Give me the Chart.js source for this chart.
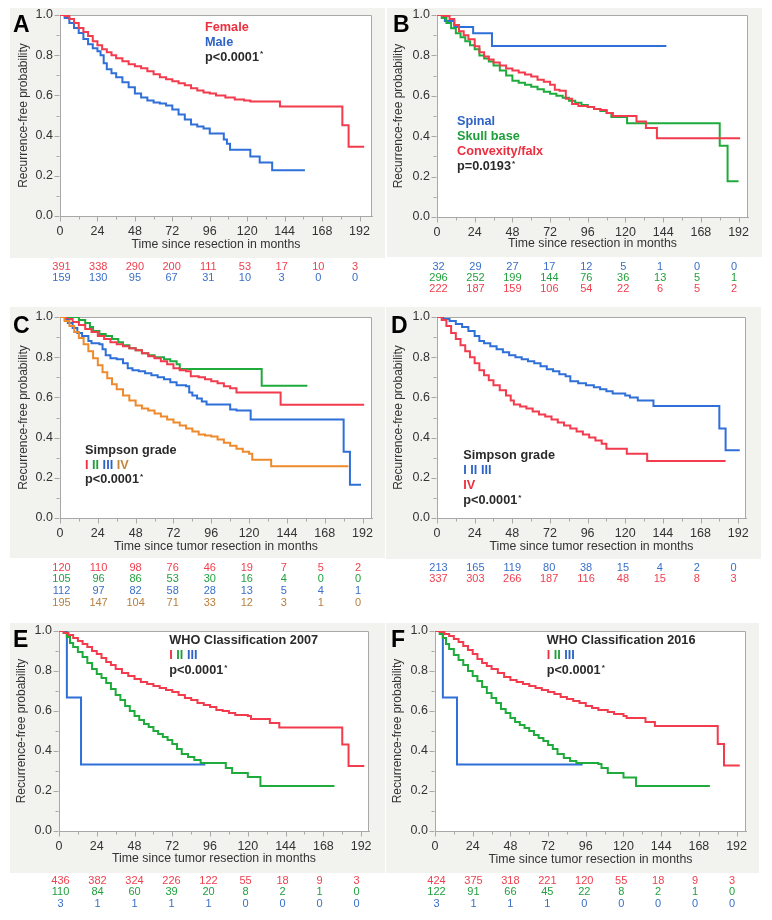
<!DOCTYPE html>
<html><head><meta charset="utf-8">
<script src="https://cdn.jsdelivr.net/npm/chart.js@4.4.1/dist/chart.umd.min.js"></script>
<style>
html,body{margin:0;padding:0;background:#fff;}
#wrap{position:relative;width:772px;height:920px;overflow:hidden;}
canvas{position:absolute;display:block;}
</style></head><body><div id="wrap">
<canvas id="cA" width="386" height="300" style="left:0;top:0"></canvas>
<canvas id="cB" width="386" height="300" style="left:386px;top:0"></canvas>
<canvas id="cC" width="386" height="310" style="left:0;top:300px"></canvas>
<canvas id="cD" width="386" height="310" style="left:386px;top:300px"></canvas>
<canvas id="cE" width="386" height="310" style="left:0;top:610px"></canvas>
<canvas id="cF" width="386" height="310" style="left:386px;top:610px"></canvas>
</div>
<script>
// ---------- tick labels ----------
const monthTicks = [0,24,48,72,96,120,144,168,192];
const probTicks = ['0.0','0.2','0.4','0.6','0.8','1.0'];

// ---------- Panel A ----------
const A_female_t = [0,3,6,9,12,15,18,21,24,27,30,33,36,40,44,48,52,56,60,64,68,72,76,80,84,88,92,96,100,106,112,118,122,141,181,185,195];
const A_female_s = [1.0,0.995,0.98,0.96,0.935,0.915,0.895,0.87,0.85,0.83,0.815,0.8,0.785,0.77,0.755,0.745,0.735,0.72,0.705,0.69,0.68,0.67,0.66,0.65,0.635,0.625,0.615,0.61,0.6,0.59,0.58,0.575,0.57,0.545,0.452,0.344,0.344];
const A_male_t = [0,3,6,9,12,15,18,21,24,26,28,30,33,36,40,44,48,52,56,60,64,68,72,76,80,84,88,92,96,105,107,109,122,128,136,157];
const A_male_s = [1.0,0.985,0.96,0.935,0.91,0.88,0.855,0.835,0.82,0.8,0.76,0.73,0.71,0.69,0.665,0.64,0.61,0.59,0.575,0.565,0.56,0.55,0.53,0.505,0.48,0.455,0.445,0.435,0.41,0.38,0.36,0.33,0.296,0.266,0.228,0.228];
const A_risk_female = [391,338,290,200,111,53,17,10,3];
const A_risk_male = [159,130,95,67,31,10,3,0,0];

// ---------- Panel B ----------
const B_spinal_t = [0,5,11,23,35,146];
const B_spinal_s = [1.0,0.97,0.94,0.91,0.846,0.846];
const B_skull_t = [0,3,6,9,12,15,18,21,24,27,30,33,36,40,44,48,52,56,60,64,68,72,76,80,84,88,92,96,100,104,108,111,121,180,185,192];
const B_skull_s = [1.0,0.985,0.96,0.935,0.91,0.89,0.87,0.85,0.83,0.8,0.785,0.77,0.75,0.725,0.7,0.675,0.665,0.655,0.645,0.632,0.62,0.61,0.6,0.59,0.575,0.565,0.555,0.545,0.535,0.525,0.515,0.495,0.464,0.353,0.177,0.177];
const B_conv_t = [0,4,8,11,14,17,20,24,27,30,33,36,40,44,48,52,56,60,64,68,72,75,78,82,86,90,96,100,104,108,112,127,133,140,193];
const B_conv_s = [1.0,0.995,0.98,0.95,0.92,0.9,0.88,0.845,0.815,0.795,0.78,0.765,0.75,0.735,0.725,0.715,0.705,0.695,0.68,0.67,0.655,0.63,0.625,0.585,0.56,0.55,0.545,0.535,0.53,0.515,0.5,0.473,0.44,0.39,0.39];
const B_risk_spinal = [32,29,27,17,12,5,1,0,0];
const B_risk_skull = [296,252,199,144,76,36,13,5,1];
const B_risk_conv = [222,187,159,106,54,22,6,5,2];

// ---------- Panel C ----------
const C_g1_t = [0,4,8,12,16,20,24,28,32,36,40,44,48,52,56,60,64,68,72,76,80,83,88,92,96,100,104,108,112,140,193];
const C_g1_s = [1.0,0.99,0.975,0.96,0.94,0.925,0.905,0.89,0.875,0.865,0.855,0.845,0.835,0.82,0.805,0.795,0.78,0.765,0.745,0.735,0.73,0.705,0.7,0.69,0.68,0.67,0.655,0.645,0.625,0.564,0.564];
const C_g2_t = [0,12,16,19,21,25,29,33,37,40,44,48,52,56,60,66,70,74,76,128,157];
const C_g2_s = [1.0,0.985,0.97,0.95,0.93,0.915,0.905,0.89,0.875,0.86,0.845,0.835,0.82,0.81,0.8,0.79,0.78,0.765,0.741,0.658,0.658];
const C_g3_t = [0,3,5,8,11,14,18,20,25,27,29,32,36,40,43,46,50,54,58,62,66,70,74,80,82,84,87,90,93,104,108,112,121,180,184,191];
const C_g3_s = [1.0,0.985,0.97,0.945,0.92,0.905,0.88,0.87,0.865,0.84,0.81,0.795,0.79,0.77,0.745,0.735,0.73,0.72,0.71,0.7,0.69,0.675,0.66,0.655,0.625,0.61,0.595,0.58,0.565,0.565,0.54,0.535,0.49,0.33,0.165,0.165];
const C_g4_t = [0,3,6,9,12,15,18,21,24,27,30,33,36,40,44,48,52,56,60,64,68,72,76,80,84,88,92,96,100,104,108,112,116,120,122,134,183];
const C_g4_s = [1.0,0.98,0.955,0.925,0.895,0.865,0.83,0.795,0.76,0.725,0.695,0.665,0.64,0.61,0.585,0.56,0.545,0.535,0.52,0.505,0.49,0.475,0.46,0.445,0.43,0.415,0.41,0.405,0.39,0.375,0.36,0.345,0.33,0.32,0.29,0.257,0.257];
const C_risk_g1 = [120,110,98,76,46,19,7,5,2];
const C_risk_g2 = [105,96,86,53,30,16,4,0,0];
const C_risk_g3 = [112,97,82,58,28,13,5,4,1];
const C_risk_g4 = [195,147,104,71,33,12,3,1,0];

// ---------- Panel D ----------
const D_g123_t = [0,4,8,12,16,20,24,27,30,34,38,42,46,50,54,58,62,66,70,74,78,82,85,90,95,100,104,108,112,120,123,128,138,180,184,193];
const D_g123_s = [1.0,0.99,0.98,0.965,0.95,0.93,0.905,0.88,0.87,0.855,0.84,0.825,0.81,0.8,0.79,0.78,0.77,0.755,0.74,0.73,0.715,0.705,0.68,0.67,0.66,0.65,0.64,0.63,0.62,0.61,0.6,0.585,0.557,0.445,0.337,0.337];
const D_g4_t = [0,3,6,9,12,15,18,21,24,27,30,33,36,40,44,47,49,53,57,61,65,69,73,77,81,85,89,93,97,101,105,108,121,134,184];
const D_g4_s = [1.0,0.985,0.955,0.92,0.89,0.86,0.83,0.8,0.77,0.735,0.71,0.685,0.66,0.635,0.61,0.585,0.565,0.555,0.545,0.53,0.515,0.505,0.49,0.475,0.46,0.445,0.43,0.415,0.4,0.385,0.37,0.345,0.32,0.283,0.283];
const D_risk_g123 = [213,165,119,80,38,15,4,2,0];
const D_risk_g4 = [337,303,266,187,116,48,15,8,3];

// ---------- Panel E ----------
const E_w1_t = [0,3,6,9,12,15,18,21,24,27,30,33,36,40,44,48,52,56,60,64,68,72,76,80,84,88,92,96,100,104,108,112,120,122,134,140,180,184,194];
const E_w1_s = [1.0,0.99,0.98,0.965,0.95,0.935,0.92,0.9,0.885,0.865,0.845,0.83,0.81,0.79,0.775,0.76,0.745,0.735,0.725,0.715,0.705,0.695,0.68,0.665,0.655,0.64,0.63,0.62,0.605,0.6,0.59,0.58,0.575,0.56,0.54,0.517,0.433,0.325,0.325];
const E_w2_t = [0,3,5,7,9,12,15,18,21,24,27,30,33,36,39,42,45,48,51,54,57,60,63,66,69,72,75,78,82,86,90,104,106,110,120,128,175];
const E_w2_s = [1.0,0.99,0.97,0.94,0.92,0.895,0.87,0.84,0.81,0.785,0.765,0.74,0.71,0.68,0.655,0.625,0.6,0.575,0.555,0.535,0.52,0.5,0.485,0.47,0.455,0.435,0.41,0.385,0.37,0.355,0.34,0.34,0.315,0.29,0.27,0.225,0.225];
const E_w3_t = [0,5,14,93];
const E_w3_s = [1.0,0.667,0.333,0.333];
const E_risk_w1 = [436,382,324,226,122,55,18,9,3];
const E_risk_w2 = [110,84,60,39,20,8,2,1,0];
const E_risk_w3 = [3,1,1,1,1,0,0,0,0];

// ---------- Panel F ----------
const F_w1_t = [0,3,6,9,12,15,18,21,24,27,30,33,36,40,44,48,52,56,60,64,68,72,76,80,84,88,92,96,100,104,110,114,120,122,134,140,180,184,194];
const F_w1_s = [1.0,0.995,0.985,0.975,0.96,0.945,0.925,0.905,0.885,0.86,0.84,0.825,0.81,0.79,0.77,0.755,0.745,0.735,0.725,0.715,0.705,0.695,0.685,0.67,0.66,0.65,0.64,0.625,0.615,0.605,0.595,0.585,0.575,0.565,0.545,0.525,0.435,0.327,0.327];
const F_w2_t = [0,3,5,7,9,12,15,18,21,24,27,30,33,36,39,42,45,48,51,54,57,60,63,66,69,72,75,78,82,86,90,104,106,110,120,128,175];
const F_w2_s = [1.0,0.985,0.965,0.935,0.91,0.88,0.855,0.83,0.8,0.775,0.75,0.72,0.69,0.665,0.64,0.61,0.59,0.565,0.545,0.53,0.515,0.5,0.48,0.465,0.45,0.43,0.41,0.385,0.365,0.35,0.34,0.335,0.315,0.29,0.267,0.225,0.225];
const F_w3_t = [0,5,14,94];
const F_w3_s = [1.0,0.667,0.333,0.333];
const F_risk_w1 = [424,375,318,221,120,55,18,9,3];
const F_risk_w2 = [122,91,66,45,22,8,2,1,0];
const F_risk_w3 = [3,1,1,1,0,0,0,0,0];

// ---------- styles ----------
const FONT = '"Liberation Sans", Arial, Helvetica, sans-serif';
const RED = '#f23b4c', BLUE = '#2f6fd8', GREEN = '#1faa3c', ORANGE = '#ee8a2c';
const RED_T = '#ec2f3f', BLUE_T = '#2d63c6', GREEN_T = '#1e9e3a', ORANGE_T = '#c4853d', DARK = '#2a2a2a';
const RED_R = '#f0404f', BLUE_R = '#3a6fc8', GREEN_R = '#22a03e', BROWN_R = '#b8803e';
const BG = '#f2f2ee', FRAME = '#a8a8a8';

const xTitle1 = 'Time since resection in months';
const xTitle2 = 'Time since tumor resection in months';
const yTitle = 'Recurrence-free probability';

const P_SIG = ['p<0.0001', DARK, '*'];

const panels = [
  {id:'cA', letter:'A', letterPos:[13,32], pad:{left:16,right:14,top:15,bottom:48}, yW:44, xH:36, xmax:200, bg:[10,8,375,250], xTitle:xTitle1,
   series:[[A_female_t,A_female_s,RED],[A_male_t,A_male_s,BLUE]],
   legend:{x:205,y0:27,dy:15,lines:[[['Female',RED_T]],[['Male',BLUE_T]],[P_SIG]]},
   risk:{rows:[[A_risk_female,RED_R],[A_risk_male,BLUE_R]],y0:50.7,dy:11}},
  {id:'cB', letter:'B', letterPos:[7,32], pad:{left:5.5,right:24,top:15,bottom:49}, yW:45.5, xH:34, xmax:198, bg:[1,8,375,249], xTitle:xTitle1,
   series:[[B_conv_t,B_conv_s,RED],[B_skull_t,B_skull_s,GREEN],[B_spinal_t,B_spinal_s,BLUE]],
   legend:{x:71,y0:121.7,dy:15,lines:[[['Spinal',BLUE_T]],[['Skull base',GREEN_T]],[['Convexity/falx',RED_T]],[['p=0.0193',DARK,'*']]]},
   risk:{rows:[[B_risk_spinal,BLUE_R],[B_risk_skull,GREEN_R],[B_risk_conv,RED_R]],y0:49.7,dy:11}},
  {id:'cC', letter:'C', letterPos:[13,33], pad:{left:16,right:14,top:17,bottom:56}, yW:44, xH:36, xmax:198, bg:[10,7,375,251], xTitle:xTitle2,
   series:[[C_g4_t,C_g4_s,ORANGE],[C_g3_t,C_g3_s,BLUE],[C_g1_t,C_g1_s,RED],[C_g2_t,C_g2_s,GREEN]],
   legend:{x:85,y0:150.7,dy:14.5,lines:[[['Simpson grade',DARK]],[['I',RED_T],[' ',DARK],['II',GREEN_T],[' ',DARK],['III',BLUE_T],[' ',DARK],['IV',ORANGE_T]],[P_SIG]]},
   risk:{rows:[[C_risk_g1,RED_R],[C_risk_g2,GREEN_R],[C_risk_g3,BLUE_R],[C_risk_g4,BROWN_R]],y0:49.7,dy:11.7}},
  {id:'cD', letter:'D', letterPos:[5,33], pad:{left:5.5,right:26,top:17,bottom:56.5}, yW:45.5, xH:35.5, xmax:197, bg:[0,7,375,252], xTitle:xTitle2,
   series:[[D_g4_t,D_g4_s,RED],[D_g123_t,D_g123_s,BLUE]],
   legend:{x:77.3,y0:155.7,dy:15,lines:[[['Simpson grade',DARK]],[['I II III',BLUE_T]],[['IV',RED_T]],[P_SIG]]},
   risk:{rows:[[D_risk_g123,BLUE_R],[D_risk_g4,RED_R]],y0:49.7,dy:11.6}},
  {id:'cE', letter:'E', letterPos:[13,37], pad:{left:14.5,right:17,top:21,bottom:54}, yW:44.5, xH:35, xmax:197, bg:[10,13,375,250], xTitle:xTitle2,
   series:[[E_w1_t,E_w1_s,RED],[E_w2_t,E_w2_s,GREEN],[E_w3_t,E_w3_s,BLUE]],
   legend:{x:169.3,y0:30.7,dy:15,lines:[[['WHO Classification 2007',DARK]],[['I',RED_T],[' ',DARK],['II',GREEN_T],[' ',DARK],['III',BLUE_T]],[P_SIG]]},
   risk:{rows:[[E_risk_w1,RED_R],[E_risk_w2,GREEN_R],[E_risk_w3,BLUE_R]],y0:49.7,dy:11.7}},
  {id:'cF', letter:'F', letterPos:[5,37], pad:{left:4.5,right:26,top:21,bottom:53.5}, yW:44.5, xH:35.5, xmax:198, bg:[0,13,373,250], xTitle:xTitle2,
   series:[[F_w1_t,F_w1_s,RED],[F_w2_t,F_w2_s,GREEN],[F_w3_t,F_w3_s,BLUE]],
   legend:{x:160.7,y0:30.7,dy:15,lines:[[['WHO Classification 2016',DARK]],[['I',RED_T],[' ',DARK],['II',GREEN_T],[' ',DARK],['III',BLUE_T]],[P_SIG]]},
   risk:{rows:[[F_risk_w1,RED_R],[F_risk_w2,GREEN_R],[F_risk_w3,BLUE_R]],y0:49.7,dy:11.7}}
];

// tick value lists derived from the labelled ticks (major + half-step minor marks)
const xTickVals = [];
monthTicks.forEach((v,i) => { xTickVals.push(v); if (i < monthTicks.length-1) xTickVals.push((v + monthTicks[i+1]) / 2); });
const yMajor = probTicks.map(Number);
const yTickVals = [];
yMajor.forEach((v,i) => { yTickVals.push(v); if (i < yMajor.length-1) yTickVals.push(Math.round((v + yMajor[i+1]) * 50) / 100); });
const isMajorY = v => yMajor.some(m => Math.abs(m - v) < 1e-6);

function panelPlugin(p) {
  return {
    id: 'panel' + p.letter,
    beforeDraw(chart) {
      const {ctx, chartArea: a} = chart;
      ctx.save();
      ctx.fillStyle = BG;
      ctx.fillRect(p.bg[0], p.bg[1], p.bg[2], p.bg[3]);
      ctx.fillStyle = '#ffffff';
      ctx.fillRect(a.left, a.top, a.right - a.left, a.bottom - a.top);
      ctx.restore();
    },
    beforeDatasetsDraw(chart) {
      const {ctx, chartArea: a} = chart;
      const xs = chart.scales.x, ys = chart.scales.y;
      ctx.save();
      ctx.strokeStyle = FRAME; ctx.lineWidth = 1;
      ctx.beginPath();
      ctx.moveTo(a.left, Math.round(a.top) + 0.5);
      ctx.lineTo(Math.round(a.right) - 0.5, Math.round(a.top) + 0.5);
      ctx.lineTo(Math.round(a.right) - 0.5, a.bottom);
      ctx.stroke();
      // tick marks: long for labelled ticks, short for minor ones
      ctx.beginPath();
      const bx = Math.round(a.bottom) + 0.5;
      xTickVals.forEach(v => {
        const px = Math.round(xs.getPixelForValue(v)) + 0.5;
        const len = monthTicks.includes(v) ? 5 : 3;
        ctx.moveTo(px, bx); ctx.lineTo(px, bx + len);
      });
      const lx = Math.round(a.left) - 0.5;
      yTickVals.forEach(v => {
        const py = Math.round(ys.getPixelForValue(v)) + 0.5;
        const len = isMajorY(v) ? 5 : 3;
        ctx.moveTo(lx, py); ctx.lineTo(lx - len, py);
      });
      ctx.stroke();
      ctx.restore();
    },
    afterDraw(chart) {
      const {ctx, chartArea: a} = chart;
      const xs = chart.scales.x;
      ctx.save();
      // panel letter
      ctx.fillStyle = '#000';
      ctx.font = 'bold 23px ' + FONT;
      ctx.textAlign = 'left'; ctx.textBaseline = 'alphabetic';
      ctx.fillText(p.letter, p.letterPos[0], p.letterPos[1]);
      // legend text
      ctx.textBaseline = 'middle';
      p.legend.lines.forEach((line, li) => {
        let x = p.legend.x;
        const y = p.legend.y0 + li * p.legend.dy;
        line.forEach(part => {
          ctx.font = 'bold 12.7px ' + FONT;
          ctx.fillStyle = part[1];
          ctx.fillText(part[0], x, y);
          x += ctx.measureText(part[0]).width;
          if (part[2]) {
            ctx.font = 'bold 8px ' + FONT;
            ctx.fillText(part[2], x + 1, y - 3);
          }
        });
      });
      // risk table
      const x0 = xs.getPixelForValue(monthTicks[0]);
      const step = (xs.getPixelForValue(monthTicks[1]) - x0) * 0.98;
      ctx.font = '11px ' + FONT;
      ctx.textAlign = 'center';
      p.risk.rows.forEach((row, ri) => {
        ctx.fillStyle = row[1];
        const y = a.bottom + p.risk.y0 + ri * p.risk.dy;
        row[0].forEach((v, ci) => {
          ctx.fillText(String(v), x0 + 1.5 + ci * step, y);
        });
      });
      ctx.restore();
    }
  };
}

panels.forEach(p => {
  const datasets = p.series.map(s => ({
    data: s[0].map((t, i) => ({x: t, y: s[1][i]})),
    borderColor: s[2], borderWidth: 2, stepped: true, pointRadius: 0, fill: false, tension: 0
  }));
  new Chart(document.getElementById(p.id), {
    type: 'line',
    data: {datasets},
    plugins: [panelPlugin(p)],
    options: {
      responsive: false, animation: false, events: [],
      layout: {padding: p.pad},
      plugins: {legend: {display: false}, tooltip: {enabled: false}},
      scales: {
        x: {
          type: 'linear', min: 0, max: p.xmax,
          afterBuildTicks: s => { s.ticks = xTickVals.map(v => ({value: v})); },
          afterFit: s => { s.height = p.xH; },
          ticks: {autoSkip: false, maxRotation: 0, minRotation: 0, padding: 8, color: '#333',
                  font: {family: FONT, size: 12.5},
                  callback: v => monthTicks.includes(v) ? String(v) : ''},
          grid: {display: false, drawTicks: false, tickLength: 0},
          border: {display: true, color: FRAME, width: 1},
          title: {display: true, text: p.xTitle, color: '#333', font: {family: FONT, size: 12.3}, padding: {top: 0, bottom: 0}}
        },
        y: {
          type: 'linear', min: 0, max: 1,
          afterBuildTicks: s => { s.ticks = yTickVals.map(v => ({value: v})); },
          afterFit: s => { s.width = p.yW; },
          ticks: {autoSkip: false, padding: 7, color: '#333', font: {family: FONT, size: 12.5},
                  callback: v => { const i = yMajor.findIndex(m => Math.abs(m - v) < 1e-6); return i >= 0 ? probTicks[i] : ''; }},
          grid: {display: false, drawTicks: false, tickLength: 0},
          border: {display: true, color: FRAME, width: 1},
          title: {display: true, text: yTitle, color: '#333', font: {family: FONT, size: 12}, padding: {top: 0, bottom: 0}}
        }
      }
    }
  });
});
</script></body></html>
